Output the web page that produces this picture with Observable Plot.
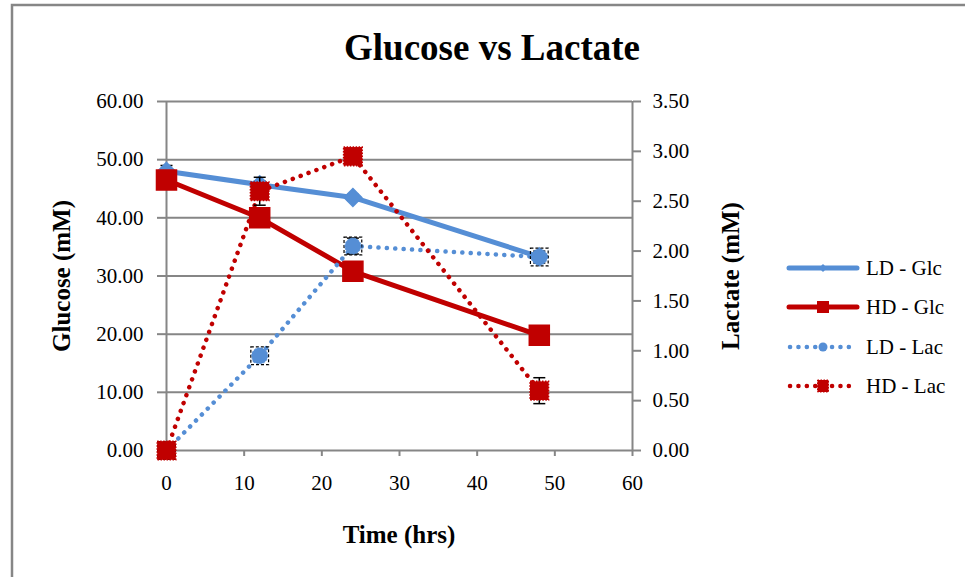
<!DOCTYPE html>
<html><head><meta charset="utf-8">
<script src="https://cdn.jsdelivr.net/npm/d3@7"></script>
<script src="https://cdn.jsdelivr.net/npm/@observablehq/plot@0.6"></script>
<style>body{margin:0;background:#fff;} svg{display:block;} svg text{font-family:"Liberation Serif","Times New Roman",serif !important;}</style>
</head><body><div id="chart"></div>
<script>
const time = [0, 12, 24, 48];
const ldGlc = [48.0, 45.7, 43.5, 33.3];
const ldGlcErr = [1.0, 0.6, 0.5, 0.5];
const hdGlc = [46.5, 40.0, 30.8, 19.8];
const hdGlcErr = [0.3, 0.8, 1.5, 0.5];
const ldLac = [0.0, 0.95, 2.05, 1.94];
const ldLacErr = [0.0, 0.03, 0.08, 0.06];
const hdLac = [0.0, 2.6, 2.95, 0.6];
const hdLacErr = [0.0, 0.14, 0.03, 0.13];
const seriesNames = ["LD - Glc", "HD - Glc", "LD - Lac", "HD - Lac"];
const xTicks = [0, 10, 20, 30, 40, 50, 60];
const glcTicks = [0, 10, 20, 30, 40, 50, 60];
const lacTicks = [0, 0.5, 1, 1.5, 2, 2.5, 3, 3.5];
const titleText = "Glucose vs Lactate";
const xLabel = "Time (hrs)";
const yLeftLabel = "Glucose (mM)";
const yRightLabel = "Lactate (mM)";

const BLUE = "#558ED5", RED = "#C00000", GREY = "#868686";
const k = 60 / 3.5; // lactate -> glucose scale units

function rows(vals, errs, scale) {
  return time.map((t, i) => ({t, v: vals[i] * scale, lo: (vals[i] - errs[i]) * scale, hi: (vals[i] + errs[i]) * scale}));
}
const dLG = rows(ldGlc, ldGlcErr, 1);
const dHG = rows(hdGlc, hdGlcErr, 1);
const dLL = rows(ldLac, ldLacErr, k);
const dHL = rows(hdLac, hdLacErr, k);

const capSymbol = {draw(ctx, size) { const w = 6; ctx.moveTo(-w, 0); ctx.lineTo(w, 0); }};

function errMarks(d) {
  const e = d.filter(r => r.hi - r.lo > 0);
  return [
    Plot.ruleX(e, {x: "t", y1: "lo", y2: "hi", stroke: "black", strokeWidth: 1.5}),
    Plot.dot(e, {x: "t", y: "lo", symbol: capSymbol, stroke: "black", strokeWidth: 1.5, r: 3}),
    Plot.dot(e, {x: "t", y: "hi", symbol: capSymbol, stroke: "black", strokeWidth: 1.5, r: 3})
  ];
}

const font = "Liberation Serif, Times New Roman, serif";

const chart = Plot.plot({
  width: 965, height: 577,
  marginLeft: 166, marginRight: 333, marginTop: 101, marginBottom: 127,
  style: {fontSize: "21px", color: "black", background: "white"},
  x: {domain: [0, 60]},
  y: {domain: [0, 60]},
  marks: [
    Plot.gridY(glcTicks, {stroke: GREY, strokeOpacity: 1, strokeWidth: 2}),
    Plot.ruleX([0, 60], {stroke: GREY, strokeWidth: 2}),
    Plot.axisY(glcTicks, {tickFormat: d => d.toFixed(2), tickSize: 9, tickPadding: 14, stroke: GREY, strokeWidth: 2, fill: "black", label: null}),
    Plot.axisY(lacTicks.map(d => d * k), {anchor: "right", tickFormat: d => (d / k).toFixed(2), tickSize: 8, tickPadding: 12, stroke: GREY, strokeWidth: 2, fill: "black", label: null}),
    Plot.axisX(xTicks, {tickSize: 6, tickPadding: 19, stroke: GREY, strokeWidth: 2, fill: "black", label: null}),
    // LD - Glc
    Plot.line(dLG, {x: "t", y: "v", stroke: BLUE, strokeWidth: 5, strokeLinecap: "round"}),
    ...errMarks(dLG),
    Plot.dot(dLG, {x: "t", y: "v", symbol: "diamond2", r: 8, fill: BLUE, stroke: BLUE}),
    // HD - Glc
    Plot.line(dHG, {x: "t", y: "v", stroke: RED, strokeWidth: 5, strokeLinecap: "round"}),
    ...errMarks(dHG),
    Plot.dot(dHG, {x: "t", y: "v", symbol: "square", r: 11.3, fill: RED, stroke: RED}),
    // LD - Lac
    Plot.line(dLL, {x: "t", y: "v", stroke: BLUE, strokeWidth: 4.5, strokeDasharray: "0.1 8.3", strokeLinecap: "round"}),
    ...errMarks(dLL),
    Plot.dot(dLL, {x: "t", y: "v", symbol: "square", r: 10, fill: "none", stroke: "black", strokeWidth: 1.2, strokeDasharray: "3 2"}),
    Plot.dot(dLL, {x: "t", y: "v", r: 8, fill: BLUE, stroke: BLUE, strokeWidth: 1, strokeDasharray: "2 1.5"}),
    // HD - Lac
    Plot.line(dHL, {x: "t", y: "v", stroke: RED, strokeWidth: 4.5, strokeDasharray: "0.1 8.3", strokeLinecap: "round"}),
    ...errMarks(dHL),
    Plot.dot(dHL, {x: "t", y: "v", symbol: "square", r: 10.5, fill: RED, stroke: RED, strokeWidth: 1.5, strokeDasharray: "1.5 1.5"})
  ]
});
document.getElementById("chart").appendChild(chart);

const svg = d3.select(chart);
svg.attr("font-family", font);
// outer chart frame
svg.insert("rect", ":first-child").attr("x", 12).attr("y", 5).attr("width", 1000).attr("height", 1000)
  .attr("fill", "white").attr("stroke", GREY).attr("stroke-width", 2.5);

const txt = (x, y, s, size, opts = {}) => {
  const t = svg.append("text").attr("x", x).attr("y", y).text(s)
    .attr("font-family", font).attr("font-size", size).attr("fill", "black")
    .attr("font-weight", opts.bold ? "bold" : "normal")
    .attr("text-anchor", opts.anchor || "middle");
  if (opts.rotate) t.attr("transform", `rotate(-90 ${x} ${y})`);
  return t;
};
txt(492, 60, titleText, 37, {bold: true});
txt(399, 543, xLabel, 25, {bold: true});
txt(70, 276, yLeftLabel, 25, {bold: true, rotate: true});
txt(739, 276, yRightLabel, 25, {bold: true, rotate: true});

// legend
const legendY = [268, 307, 347, 386];
const lg = svg.append("g");
const specs = [
  {color: BLUE, dash: null, marker: "diamond"},
  {color: RED, dash: null, marker: "square"},
  {color: BLUE, dash: "0.1 8.3", marker: "circle"},
  {color: RED, dash: "0.1 8.3", marker: "squareDot"}
];
specs.forEach((s, i) => {
  const y = legendY[i];
  const line = lg.append("line").attr("x1", 789).attr("x2", 857).attr("y1", y).attr("y2", y)
    .attr("stroke", s.color).attr("stroke-width", s.dash ? 4.5 : 5).attr("stroke-linecap", "round");
  if (s.dash) line.attr("stroke-dasharray", s.dash).attr("x1", 790);
  const cx = 823;
  if (s.marker === "diamond") {
    lg.append("path").attr("d", `M${cx},${y-4}L${cx+4},${y}L${cx},${y+4}L${cx-4},${y}Z`).attr("fill", s.color);
  } else if (s.marker === "square") {
    lg.append("rect").attr("x", cx - 6).attr("y", y - 6).attr("width", 12).attr("height", 12).attr("fill", s.color);
  } else if (s.marker === "circle") {
    lg.append("circle").attr("cx", cx).attr("cy", y).attr("r", 4.5).attr("fill", s.color);
  } else {
    lg.append("rect").attr("x", cx - 5.5).attr("y", y - 6).attr("width", 11).attr("height", 12).attr("fill", s.color)
      .attr("stroke", s.color).attr("stroke-dasharray", "1.5 1.5");
  }
  txt(866, y + 7, seriesNames[i], 21, {anchor: "start"});
});
</script></body></html>
